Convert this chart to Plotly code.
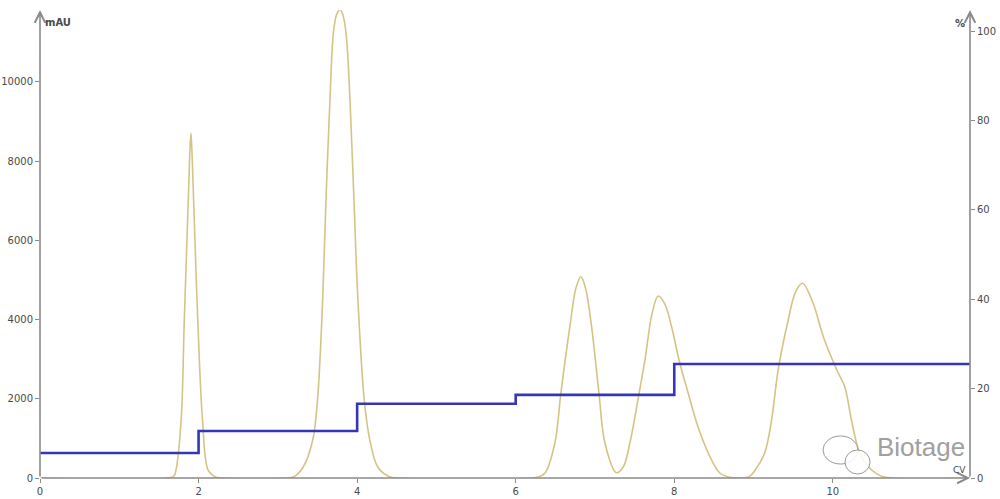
import plotly.graph_objects as go

# UV trace (CV, mAU)
cv_trace = [0, 1.60, 1.69, 1.715, 1.78, 1.82, 1.862, 1.885, 1.904, 1.922, 1.946, 1.99, 2.05, 2.12, 2.20, 2.35,
            3.10, 3.20, 3.32, 3.44, 3.50, 3.565, 3.607, 3.657, 3.70, 3.74, 3.783, 3.82, 3.86, 3.91, 3.96, 4.01, 4.09, 4.16, 4.26, 4.40, 4.55,
            6.18, 6.30, 6.37, 6.494, 6.57, 6.683, 6.76, 6.822, 6.88, 6.957, 7.05, 7.125, 7.27, 7.356, 7.44, 7.557, 7.63, 7.72, 7.797,
            7.88, 7.966, 8.06, 8.175, 8.30, 8.47, 8.575, 8.70, 8.83,
            8.95, 9.02, 9.14, 9.227, 9.31, 9.437, 9.53, 9.617, 9.75, 9.88, 10.05, 10.15, 10.235, 10.34, 10.49, 10.62, 10.76, 11.73]
mau_trace = [0, 0, 50, 200, 1460, 3990, 6515, 7950, 8710, 7950, 6515, 3990, 1460, 200, 40, 0,
             0, 30, 278, 960, 1970, 4495, 7020, 9545, 11236, 11700, 11835, 11700, 11236, 9545, 7020, 4495, 1970, 960, 278, 40, 0,
             0, 40, 126, 884, 2146, 3820, 4800, 5083, 4800, 3820, 2146, 884, 134, 278, 884, 2146, 2980, 4150, 4596,
             4400, 3820, 2980, 2146, 1288, 455, 126, 20, 0,
             40, 202, 631, 1464, 2727, 3990, 4700, 4916, 4419, 3568, 2727, 2305, 1464, 631, 202, 40, 0, 0]

# Gradient (% B) step profile
cv_grad = [0, 2, 4, 6, 8, 11.73]
pct_grad = [5.6, 10.5, 16.6, 18.6, 25.5, 25.5]

x_ticks = [0, 2, 4, 6, 8, 10]
y_ticks = [0, 2000, 4000, 6000, 8000, 10000]
y2_ticks = [0, 20, 40, 60, 80, 100]

X_MAX = 11.73
Y_MAX = 11818
Y2_MAX = 104.7

axis_col = "#8a8a8a"
font_col = "#4a4a4a"

fig = go.Figure()
fig.add_trace(go.Scatter(x=cv_trace, y=mau_trace, mode="lines",
                         line=dict(color="#d3c486", width=1.6, shape="spline", smoothing=1.0),
                         hoverinfo="skip", showlegend=False, cliponaxis=True))
fig.add_trace(go.Scatter(x=cv_grad, y=pct_grad, mode="lines", yaxis="y2",
                         line=dict(color="#3535b8", width=2.6, shape="hv"),
                         hoverinfo="skip", showlegend=False))

tickfont = dict(family="DejaVu Sans", size=10, color=font_col)
fig.update_layout(
    width=1000, height=499,
    margin=dict(l=40, r=30, t=10, b=21, autoexpand=False),
    paper_bgcolor="white", plot_bgcolor="white",
    xaxis=dict(range=[0, X_MAX], tickvals=x_ticks, ticktext=[str(v) for v in x_ticks],
               showgrid=False, zeroline=False, showline=False, automargin=False,
               ticks="outside", ticklen=4, tickcolor=axis_col, tickfont=tickfont),
    yaxis=dict(range=[0, Y_MAX], tickvals=y_ticks, ticktext=[str(v) for v in y_ticks],
               showgrid=False, zeroline=False, showline=False, automargin=False,
               ticks="outside", ticklen=4, tickcolor=axis_col, tickfont=tickfont),
    yaxis2=dict(range=[0, Y2_MAX], tickvals=y2_ticks, ticktext=[str(v) for v in y2_ticks],
                overlaying="y", side="right", anchor="x", automargin=False,
                showgrid=False, zeroline=False, showline=False,
                ticks="outside", ticklen=4, tickcolor=axis_col, tickfont=tickfont),
)

# axis lines with arrow heads
arrows = [
    dict(x=0, y=Y_MAX, ax=0, ay=0),
    dict(x=X_MAX, y=0, ax=0, ay=0),
    dict(x=X_MAX, y=Y_MAX, ax=X_MAX, ay=0),
]
for a in arrows:
    fig.add_annotation(x=a["x"], y=a["y"], ax=a["ax"], ay=a["ay"], xref="x", yref="y",
                       axref="x", ayref="y", text="", showarrow=True, arrowhead=5,
                       arrowsize=1.3, arrowwidth=1.6, arrowcolor=axis_col)

lab = dict(family="DejaVu Sans", size=10, color=font_col)
fig.add_annotation(x=0, y=1.0, xref="paper", yref="paper", text="<b>mAU</b>", showarrow=False,
                   xanchor="left", yanchor="top", xshift=3, yshift=-5, font=lab)
fig.add_annotation(x=1, y=1.0, xref="paper", yref="paper", text="<b>%</b>", showarrow=False,
                   xanchor="right", yanchor="top", xshift=-3, yshift=-6, font=lab)
fig.add_annotation(x=1, y=0, xref="paper", yref="paper", text="CV", showarrow=False,
                   xanchor="right", yanchor="bottom", xshift=-2, yshift=1,
                   font=dict(family="DejaVu Sans", size=9, color=font_col))

# watermark
fig.add_annotation(x=1, y=0, xref="paper", yref="paper", text="Biotage", showarrow=False,
                   xanchor="right", yanchor="bottom", xshift=-3, yshift=14,
                   font=dict(family="Liberation Sans", size=26, color="#a0a0a0"))
fig.add_shape(type="circle", xref="paper", yref="paper",
              x0=(823 - 40) / 930, x1=(858 - 40) / 930, y0=(478 - 464) / 468, y1=(478 - 436) / 468,
              line=dict(color="#9a9a9a", width=1), fillcolor="rgba(255,255,255,0.85)")
fig.add_shape(type="circle", xref="paper", yref="paper",
              x0=(845 - 40) / 930, x1=(870 - 40) / 930, y0=(478 - 474) / 468, y1=(478 - 450) / 468,
              line=dict(color="#9a9a9a", width=1), fillcolor="rgba(255,255,255,0.85)")

fig.write_html("out.html", config={"displayModeBar": False},
               post_script="document.body.style.margin='0';document.body.style.overflow='hidden';")
